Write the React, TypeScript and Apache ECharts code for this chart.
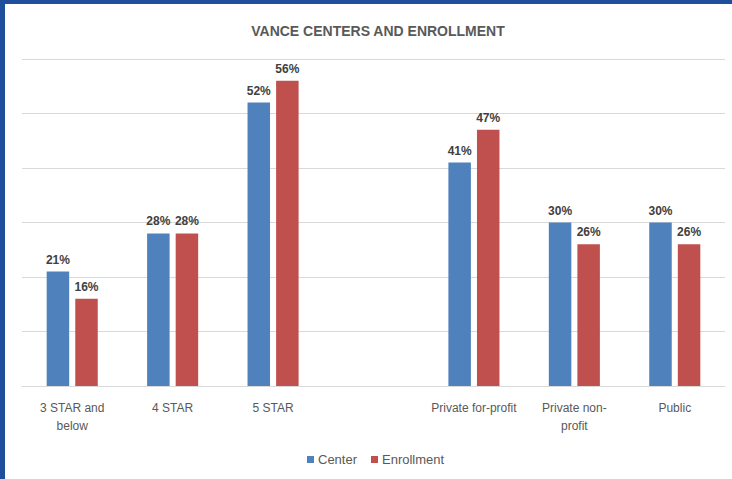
import React, { useEffect, useRef } from "react";
import * as echarts from "echarts";

const categories = [
  "3 STAR and\nbelow",
  "4 STAR",
  "5 STAR",
  "",
  "Private for-profit",
  "Private non-\nprofit",
  "Public",
];
const centerValues: (number | string)[] = [21, 28, 52, "-", 41, 30, 30];
const enrollmentValues: (number | string)[] = [16, 28, 56, "-", 47, 26, 26];
const seriesNames = ["Center", "Enrollment"];
const titleText = "VANCE CENTERS AND ENROLLMENT";

export default function App() {
  const ref = useRef<HTMLDivElement>(null);
  useEffect(() => {
    if (!ref.current) return;
    const chart = echarts.init(ref.current, undefined, { renderer: "svg" });
    const labelStyle = {
      show: true,
      position: "top" as const,
      formatter: "{c}%",
      color: "#404040",
      fontWeight: "bold" as const,
      fontSize: 12,
      fontFamily: "Liberation Sans, Arial, sans-serif",
      distance: 6,
    };
    chart.setOption({
      animation: false,
      backgroundColor: "#ffffff",
      textStyle: { fontFamily: "Liberation Sans, Arial, sans-serif" },
      title: {
        text: titleText,
        left: 373,
        textAlign: "center",
        top: 19,
        textStyle: {
          fontSize: 14,
          fontWeight: "bold",
          color: "#595959",
          fontFamily: "Liberation Sans, Arial, sans-serif",
        },
      },
      graphic: [
        { type: "rect", left: 0, top: 0, shape: { width: 5, height: 479 }, style: { fill: "#1F4E9A" } },
        { type: "rect", left: 0, top: 0, shape: { width: 732, height: 4 }, style: { fill: "#1F4E9A" } },
      ],
      legend: {
        data: seriesNames,
        bottom: 8,
        left: 302,
        itemWidth: 7,
        itemHeight: 7,
        itemGap: 14,
        icon: "rect",
        textStyle: { color: "#595959", fontSize: 13, padding: [0, 0, 0, -1] },
      },
      grid: { left: 22, right: 7, top: 59, bottom: 93 },
      xAxis: {
        type: "category",
        data: categories,
        axisLine: { lineStyle: { color: "#d9d9d9", width: 1 } },
        axisTick: { show: false },
        axisLabel: { color: "#595959", fontSize: 12, margin: 13, lineHeight: 18, interval: 0 },
      },
      yAxis: {
        type: "value",
        min: 0,
        max: 60,
        interval: 10,
        axisLabel: { show: false },
        axisLine: { show: false },
        axisTick: { show: false },
        splitLine: { lineStyle: { color: "#d9d9d9", width: 1 } },
      },
      series: [
        {
          name: seriesNames[0],
          type: "bar",
          data: centerValues,
          barWidth: "22.4%",
          barGap: "27%",
          itemStyle: { color: "#4F81BD" },
          label: labelStyle,
        },
        {
          name: seriesNames[1],
          type: "bar",
          data: enrollmentValues,
          barWidth: "22.4%",
          itemStyle: { color: "#C0504D" },
          label: labelStyle,
        },
      ],
    });
    return () => chart.dispose();
  }, []);
  return (
    <div
      ref={ref}
      style={{ position: "fixed", left: 0, top: 0, width: 732, height: 479 }}
    />
  );
}
